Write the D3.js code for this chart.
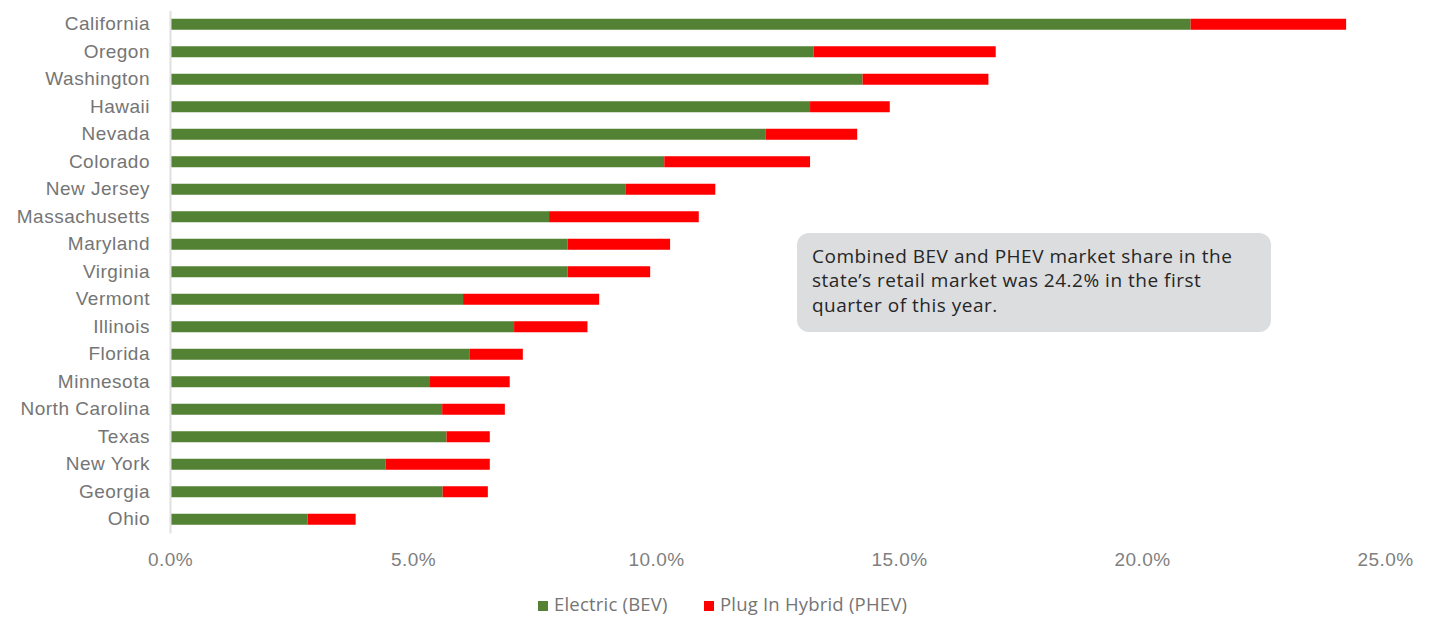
<!DOCTYPE html>
<html>
<head>
<meta charset="utf-8">
<script src="https://cdn.jsdelivr.net/npm/d3@7"></script>
<style>
  body { margin: 0; background: #fff; }
  svg { display: block; font-family: "Open Sans", "Noto Sans", sans-serif; }
</style>
</head>
<body>
<svg id="chart" width="1433" height="619"></svg>
<script>
// data (share of retail market, %)
const states = ['California', 'Oregon', 'Washington', 'Hawaii', 'Nevada', 'Colorado', 'New Jersey',
  'Massachusetts', 'Maryland', 'Virginia', 'Vermont', 'Illinois', 'Florida', 'Minnesota',
  'North Carolina', 'Texas', 'New York', 'Georgia', 'Ohio'];
const bev = [21.0, 13.24, 14.25, 13.17, 12.26, 10.17, 9.38, 7.8, 8.18, 8.18, 6.03, 7.08, 6.17, 5.35, 5.6, 5.69, 4.44, 5.61, 2.83];
const phev = [3.2, 3.75, 2.59, 1.64, 1.88, 3.0, 1.84, 3.08, 2.11, 1.7, 2.8, 1.51, 1.09, 1.64, 1.29, 0.89, 2.14, 0.93, 0.99];
const xTicks = [0, 5, 10, 15, 20, 25];
const seriesNames = ['Electric (BEV)', 'Plug In Hybrid (PHEV)'];
const seriesColors = ['#548235', '#ff0000'];
const note = ['Combined BEV and PHEV market share in the',
  'state\u2019s retail market was 24.2% in the first',
  'quarter of this year.'];

const svg = d3.select('#chart');

const x = d3.scaleLinear().domain([0, 25]).range([170, 1385]);
const y = d3.scaleBand().domain(states).range([10.5, 533]).paddingInner(0.6).paddingOuter(0.3);

// stacked rows
const rows = states.map((s, i) => ({state: s, bev: bev[i], phev: phev[i]}));
const stack = d3.stack().keys(['bev', 'phev'])(rows);

svg.append('g')
  .selectAll('g')
  .data(stack)
  .join('g')
    .attr('fill', (d, i) => seriesColors[i])
  .selectAll('rect')
  .data(d => d)
  .join('rect')
    .attr('x', d => x(d[0]))
    .attr('y', d => y(d.data.state))
    .attr('width', d => x(d[1]) - x(d[0]))
    .attr('height', y.bandwidth());

// y axis
const yAxis = svg.append('g')
  .attr('transform', `translate(${x(0)},0)`)
  .call(d3.axisLeft(y).tickSize(0).tickSizeOuter(0).tickPadding(20));
yAxis.select('.domain').attr('stroke', '#e0e0e0').attr('stroke-width', 2);
yAxis.selectAll('text')
  .attr('fill', '#757575')
  .style('font-size', '19px')
  .style('letter-spacing', '0.5px');

// x axis (labels only)
const xAxis = svg.append('g')
  .attr('transform', 'translate(0,546)')
  .call(d3.axisBottom(x).tickValues(xTicks).tickSize(0).tickPadding(7)
    .tickFormat(d => d.toFixed(1) + '%'));
xAxis.select('.domain').remove();
xAxis.selectAll('text')
  .attr('fill', '#7f7f7f')
  .style('font-size', '19px')
  .style('letter-spacing', '0.4px');

// legend
const legend = svg.append('g').attr('transform', 'translate(538,605)');
const legendX = [0, 166];
seriesNames.forEach((name, i) => {
  const g = legend.append('g').attr('transform', `translate(${legendX[i]},0)`);
  g.append('rect').attr('x', 0).attr('y', -4).attr('width', 10).attr('height', 10).attr('fill', seriesColors[i]);
  g.append('text').attr('x', 16).attr('y', 0).attr('dy', '0.35em')
    .attr('fill', '#757575').style('font-size', '18.5px').style('letter-spacing', '0.2px').text(name);
});

// annotation box
const box = svg.append('g').attr('transform', 'translate(797,233)');
box.append('rect')
  .attr('width', 474).attr('height', 99)
  .attr('rx', 12).attr('ry', 12)
  .attr('fill', '#dcdddf');
box.append('text')
  .attr('fill', '#262626')
  .style('font-size', '19px')
  .style('letter-spacing', '0.5px')
  .selectAll('tspan')
  .data(note)
  .join('tspan')
    .attr('x', 15)
    .attr('y', (d, i) => 30 + i * 24.3)
    .text(d => d);
</script>
</body>
</html>
